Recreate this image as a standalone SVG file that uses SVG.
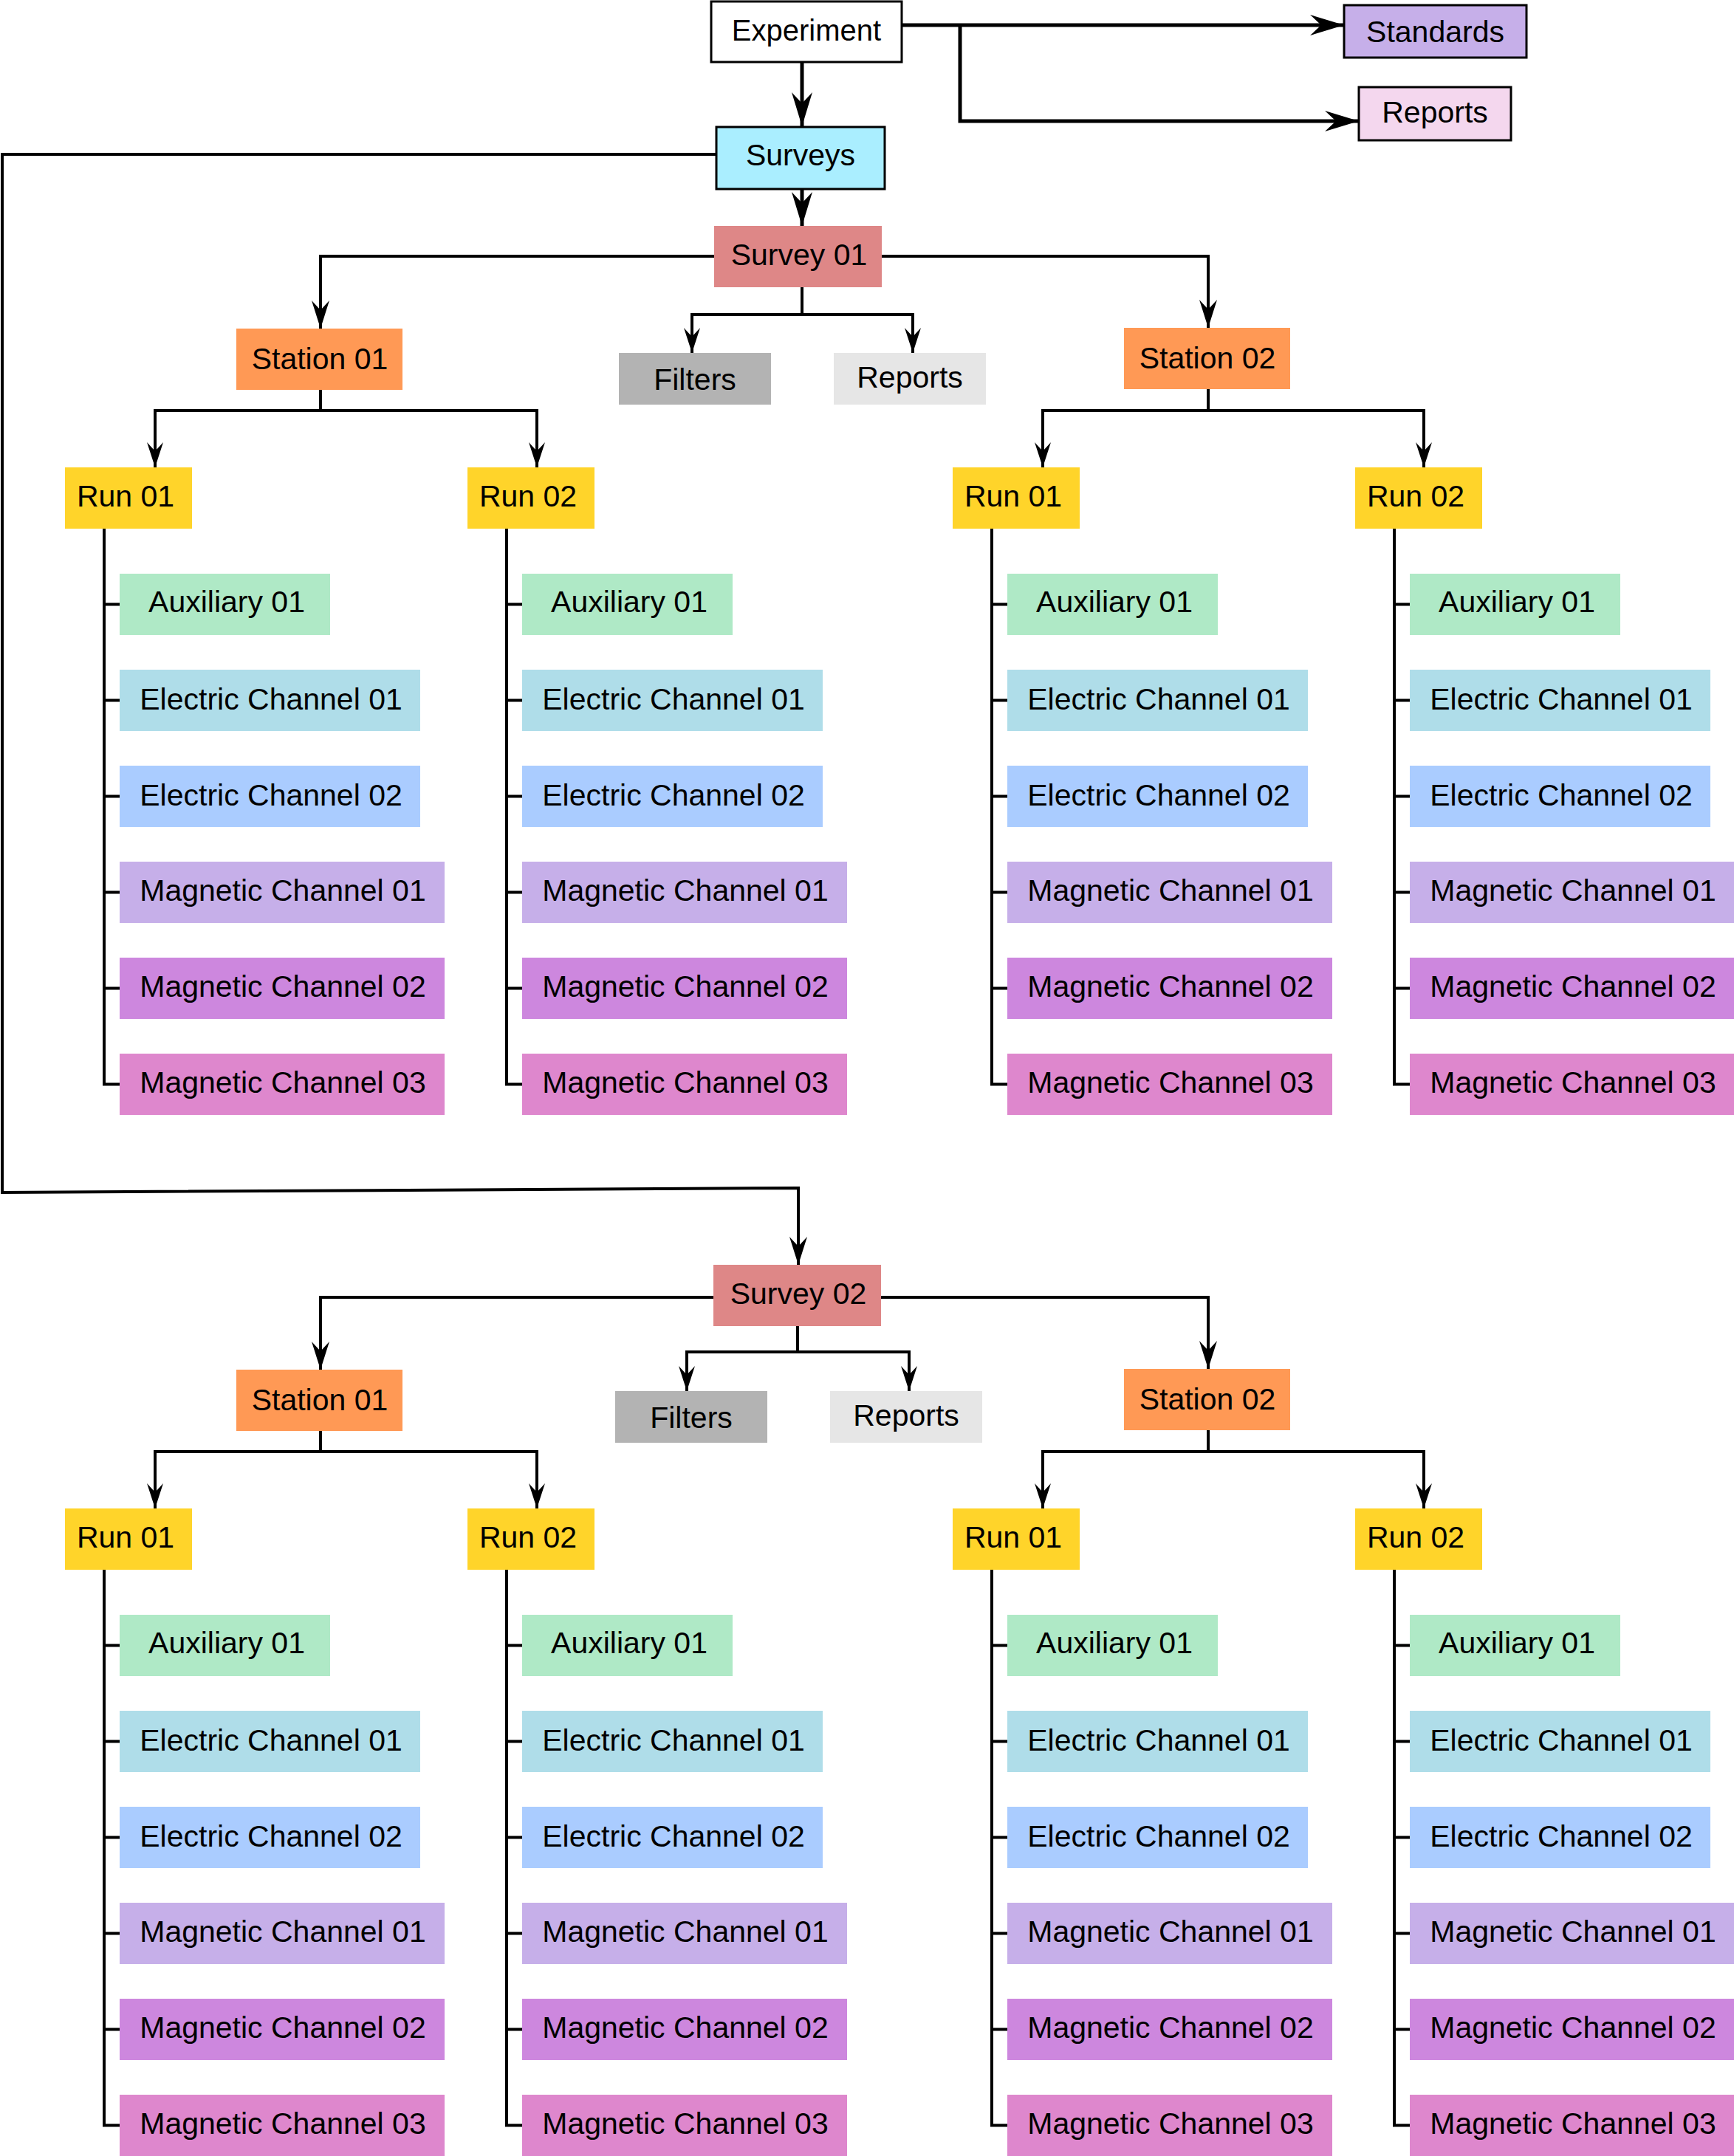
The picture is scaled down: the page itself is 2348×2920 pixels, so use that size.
<svg xmlns="http://www.w3.org/2000/svg" width="2348" height="2920" viewBox="0 0 2348 2920">
<defs>
<style>
text{font-family:"Liberation Sans",Arial,sans-serif;font-size:41px;fill:#000;text-anchor:middle}
.c{fill:none;stroke:#000;stroke-width:4;stroke-linejoin:miter}
.t{stroke-width:5}
.b{stroke:#000;stroke-width:3}
.exp{fill:#fff}.std{fill:#c6afe9}.rep0{fill:#f4d7ee}.svs{fill:#aaeeff}
.sv{fill:#de8787}.st{fill:#ff9955}.run{fill:#ffd42a}.fil{fill:#b3b3b3}.rep{fill:#e6e6e6}
.aux{fill:#afe9c6}.e1{fill:#afdde9}.e2{fill:#aaccff}.m1{fill:#c6afe9}.m2{fill:#cd87de}.m3{fill:#de87cd}
</style>
<marker id="a" markerUnits="userSpaceOnUse" viewBox="-48 -16 50 32" markerWidth="50" markerHeight="32" refX="0" refY="0" orient="auto"><path d="M0,0 L-46,-14 L-31,0 L-46,14 Z" fill="#000"/></marker>
<marker id="m" markerUnits="userSpaceOnUse" viewBox="-40 -14 42 28" markerWidth="42" markerHeight="28" refX="0" refY="0" orient="auto"><path d="M0,0 L-38,-12 L-25,0 L-38,12 Z" fill="#000"/></marker>
<marker id="s" markerUnits="userSpaceOnUse" viewBox="-36 -12 38 24" markerWidth="38" markerHeight="24" refX="0" refY="0" orient="auto"><path d="M0,0 L-34,-11 L-22,0 L-34,11 Z" fill="#000"/></marker>
</defs>
<rect x="0" y="0" width="2348" height="2920" fill="#fff"/>

<g id="connectors">
<path class="c t" d="M1221,34 H1820" marker-end="url(#a)"/>
<path class="c t" d="M1300,34 V164 H1840" marker-end="url(#a)"/>
<path class="c t" d="M1086,85 V171" marker-end="url(#a)"/>
<path class="c t" d="M1086,256 V306" marker-end="url(#a)"/>
<path class="c" d="M970,209 H3 V1615 L1081,1609 V1713" marker-end="url(#m)"/>

<path class="c" d="M967,347 H434 V445" marker-end="url(#m)"/>
<path class="c" d="M1194,347 H1636 V444" marker-end="url(#m)"/>
<path class="c" d="M1086,389 V426 H937 V478" marker-end="url(#s)"/>
<path class="c" d="M1086,426 H1236 V478" marker-end="url(#s)"/>
<path class="c" d="M434,528 V556 H210 V633" marker-end="url(#s)"/>
<path class="c" d="M434,556 H727 V633" marker-end="url(#s)"/>
<path class="c" d="M1636,527 V556 H1412 V633" marker-end="url(#s)"/>
<path class="c" d="M1636,556 H1928 V633" marker-end="url(#s)"/>
<path class="c" d="M141,716 V1468.5 H162 M141,818.5 H162 M141,948.5 H162 M141,1078.5 H162 M141,1208.5 H162 M141,1338.5 H162"/>
<path class="c" d="M686,716 V1468.5 H707 M686,818.5 H707 M686,948.5 H707 M686,1078.5 H707 M686,1208.5 H707 M686,1338.5 H707"/>
<path class="c" d="M1343,716 V1468.5 H1364 M1343,818.5 H1364 M1343,948.5 H1364 M1343,1078.5 H1364 M1343,1208.5 H1364 M1343,1338.5 H1364"/>
<path class="c" d="M1888,716 V1468.5 H1909 M1888,818.5 H1909 M1888,948.5 H1909 M1888,1078.5 H1909 M1888,1208.5 H1909 M1888,1338.5 H1909"/>

<path class="c" d="M966,1757 H434 V1855" marker-end="url(#m)"/>
<path class="c" d="M1193,1757 H1636 V1854" marker-end="url(#m)"/>
<path class="c" d="M1080,1796 V1831 H930 V1884" marker-end="url(#s)"/>
<path class="c" d="M1080,1831 H1231 V1884" marker-end="url(#s)"/>
<path class="c" d="M434,1938 V1966 H210 V2043" marker-end="url(#s)"/>
<path class="c" d="M434,1966 H727 V2043" marker-end="url(#s)"/>
<path class="c" d="M1636,1937 V1966 H1412 V2043" marker-end="url(#s)"/>
<path class="c" d="M1636,1966 H1928 V2043" marker-end="url(#s)"/>
<path class="c" d="M141,2126 V2878.5 H162 M141,2228.5 H162 M141,2358.5 H162 M141,2488.5 H162 M141,2618.5 H162 M141,2748.5 H162"/>
<path class="c" d="M686,2126 V2878.5 H707 M686,2228.5 H707 M686,2358.5 H707 M686,2488.5 H707 M686,2618.5 H707 M686,2748.5 H707"/>
<path class="c" d="M1343,2126 V2878.5 H1364 M1343,2228.5 H1364 M1343,2358.5 H1364 M1343,2488.5 H1364 M1343,2618.5 H1364 M1343,2748.5 H1364"/>
<path class="c" d="M1888,2126 V2878.5 H1909 M1888,2228.5 H1909 M1888,2358.5 H1909 M1888,2488.5 H1909 M1888,2618.5 H1909 M1888,2748.5 H1909"/>
</g>

<g id="experiment"><rect class="exp b" x="963" y="2" width="258" height="82"/><text x="1092" y="55" style="font-size:40px">Experiment</text></g>
<g id="standards"><rect class="std b" x="1820" y="7" width="247" height="71"/><text x="1943.5" y="57">Standards</text></g>
<g id="reports-top"><rect class="rep0 b" x="1840" y="118" width="206" height="72"/><text x="1943" y="166">Reports</text></g>
<g id="surveys"><rect class="svs b" x="970" y="172" width="228" height="84"/><text x="1084" y="224">Surveys</text></g>

<g id="survey01"><rect class="sv" x="967" y="306" width="227" height="83"/><text x="1082" y="359">Survey 01</text></g>
<g id="s1-station01"><rect class="st" x="320" y="445" width="225" height="83"/><text x="433" y="500">Station 01</text></g>
<g id="s1-station02"><rect class="st" x="1522" y="444" width="225" height="83"/><text x="1635" y="499">Station 02</text></g>
<g id="s1-filters"><rect class="fil" x="838" y="478" width="206" height="70"/><text x="941" y="528">Filters</text></g>
<g id="s1-reports"><rect class="rep" x="1129" y="478" width="206" height="70"/><text x="1232" y="525">Reports</text></g>

<g id="s1-st1-run01"><rect class="run" x="88" y="633" width="172" height="83"/><text x="170" y="686">Run 01</text></g>
<g id="s1-st1-run02"><rect class="run" x="633" y="633" width="172" height="83"/><text x="715" y="686">Run 02</text></g>
<g id="s1-st2-run01"><rect class="run" x="1290" y="633" width="172" height="83"/><text x="1372" y="686">Run 01</text></g>
<g id="s1-st2-run02"><rect class="run" x="1835" y="633" width="172" height="83"/><text x="1917" y="686">Run 02</text></g>

<g id="s1-st1-r1-aux"><rect class="aux" x="162" y="777" width="285" height="83"/><text x="307" y="829">Auxiliary 01</text></g>
<g id="s1-st1-r1-e1"><rect class="e1" x="162" y="907" width="407" height="83"/><text x="367" y="961">Electric Channel 01</text></g>
<g id="s1-st1-r1-e2"><rect class="e2" x="162" y="1037" width="407" height="83"/><text x="367" y="1091">Electric Channel 02</text></g>
<g id="s1-st1-r1-m1"><rect class="m1" x="162" y="1167" width="440" height="83"/><text x="383" y="1220">Magnetic Channel 01</text></g>
<g id="s1-st1-r1-m2"><rect class="m2" x="162" y="1297" width="440" height="83"/><text x="383" y="1350">Magnetic Channel 02</text></g>
<g id="s1-st1-r1-m3"><rect class="m3" x="162" y="1427" width="440" height="83"/><text x="383" y="1480">Magnetic Channel 03</text></g>

<g id="s1-st1-r2-aux"><rect class="aux" x="707" y="777" width="285" height="83"/><text x="852" y="829">Auxiliary 01</text></g>
<g id="s1-st1-r2-e1"><rect class="e1" x="707" y="907" width="407" height="83"/><text x="912" y="961">Electric Channel 01</text></g>
<g id="s1-st1-r2-e2"><rect class="e2" x="707" y="1037" width="407" height="83"/><text x="912" y="1091">Electric Channel 02</text></g>
<g id="s1-st1-r2-m1"><rect class="m1" x="707" y="1167" width="440" height="83"/><text x="928" y="1220">Magnetic Channel 01</text></g>
<g id="s1-st1-r2-m2"><rect class="m2" x="707" y="1297" width="440" height="83"/><text x="928" y="1350">Magnetic Channel 02</text></g>
<g id="s1-st1-r2-m3"><rect class="m3" x="707" y="1427" width="440" height="83"/><text x="928" y="1480">Magnetic Channel 03</text></g>

<g id="s1-st2-r1-aux"><rect class="aux" x="1364" y="777" width="285" height="83"/><text x="1509" y="829">Auxiliary 01</text></g>
<g id="s1-st2-r1-e1"><rect class="e1" x="1364" y="907" width="407" height="83"/><text x="1569" y="961">Electric Channel 01</text></g>
<g id="s1-st2-r1-e2"><rect class="e2" x="1364" y="1037" width="407" height="83"/><text x="1569" y="1091">Electric Channel 02</text></g>
<g id="s1-st2-r1-m1"><rect class="m1" x="1364" y="1167" width="440" height="83"/><text x="1585" y="1220">Magnetic Channel 01</text></g>
<g id="s1-st2-r1-m2"><rect class="m2" x="1364" y="1297" width="440" height="83"/><text x="1585" y="1350">Magnetic Channel 02</text></g>
<g id="s1-st2-r1-m3"><rect class="m3" x="1364" y="1427" width="440" height="83"/><text x="1585" y="1480">Magnetic Channel 03</text></g>

<g id="s1-st2-r2-aux"><rect class="aux" x="1909" y="777" width="285" height="83"/><text x="2054" y="829">Auxiliary 01</text></g>
<g id="s1-st2-r2-e1"><rect class="e1" x="1909" y="907" width="407" height="83"/><text x="2114" y="961">Electric Channel 01</text></g>
<g id="s1-st2-r2-e2"><rect class="e2" x="1909" y="1037" width="407" height="83"/><text x="2114" y="1091">Electric Channel 02</text></g>
<g id="s1-st2-r2-m1"><rect class="m1" x="1909" y="1167" width="440" height="83"/><text x="2130" y="1220">Magnetic Channel 01</text></g>
<g id="s1-st2-r2-m2"><rect class="m2" x="1909" y="1297" width="440" height="83"/><text x="2130" y="1350">Magnetic Channel 02</text></g>
<g id="s1-st2-r2-m3"><rect class="m3" x="1909" y="1427" width="440" height="83"/><text x="2130" y="1480">Magnetic Channel 03</text></g>

<g id="survey02"><rect class="sv" x="966" y="1713" width="227" height="83"/><text x="1081" y="1766">Survey 02</text></g>
<g id="s2-station01"><rect class="st" x="320" y="1855" width="225" height="83"/><text x="433" y="1910">Station 01</text></g>
<g id="s2-station02"><rect class="st" x="1522" y="1854" width="225" height="83"/><text x="1635" y="1909">Station 02</text></g>
<g id="s2-filters"><rect class="fil" x="833" y="1884" width="206" height="70"/><text x="936" y="1934">Filters</text></g>
<g id="s2-reports"><rect class="rep" x="1124" y="1884" width="206" height="70"/><text x="1227" y="1931">Reports</text></g>

<g id="s2-st1-run01"><rect class="run" x="88" y="2043" width="172" height="83"/><text x="170" y="2096">Run 01</text></g>
<g id="s2-st1-run02"><rect class="run" x="633" y="2043" width="172" height="83"/><text x="715" y="2096">Run 02</text></g>
<g id="s2-st2-run01"><rect class="run" x="1290" y="2043" width="172" height="83"/><text x="1372" y="2096">Run 01</text></g>
<g id="s2-st2-run02"><rect class="run" x="1835" y="2043" width="172" height="83"/><text x="1917" y="2096">Run 02</text></g>

<g id="s2-st1-r1-aux"><rect class="aux" x="162" y="2187" width="285" height="83"/><text x="307" y="2239">Auxiliary 01</text></g>
<g id="s2-st1-r1-e1"><rect class="e1" x="162" y="2317" width="407" height="83"/><text x="367" y="2371">Electric Channel 01</text></g>
<g id="s2-st1-r1-e2"><rect class="e2" x="162" y="2447" width="407" height="83"/><text x="367" y="2501">Electric Channel 02</text></g>
<g id="s2-st1-r1-m1"><rect class="m1" x="162" y="2577" width="440" height="83"/><text x="383" y="2630">Magnetic Channel 01</text></g>
<g id="s2-st1-r1-m2"><rect class="m2" x="162" y="2707" width="440" height="83"/><text x="383" y="2760">Magnetic Channel 02</text></g>
<g id="s2-st1-r1-m3"><rect class="m3" x="162" y="2837" width="440" height="83"/><text x="383" y="2890">Magnetic Channel 03</text></g>

<g id="s2-st1-r2-aux"><rect class="aux" x="707" y="2187" width="285" height="83"/><text x="852" y="2239">Auxiliary 01</text></g>
<g id="s2-st1-r2-e1"><rect class="e1" x="707" y="2317" width="407" height="83"/><text x="912" y="2371">Electric Channel 01</text></g>
<g id="s2-st1-r2-e2"><rect class="e2" x="707" y="2447" width="407" height="83"/><text x="912" y="2501">Electric Channel 02</text></g>
<g id="s2-st1-r2-m1"><rect class="m1" x="707" y="2577" width="440" height="83"/><text x="928" y="2630">Magnetic Channel 01</text></g>
<g id="s2-st1-r2-m2"><rect class="m2" x="707" y="2707" width="440" height="83"/><text x="928" y="2760">Magnetic Channel 02</text></g>
<g id="s2-st1-r2-m3"><rect class="m3" x="707" y="2837" width="440" height="83"/><text x="928" y="2890">Magnetic Channel 03</text></g>

<g id="s2-st2-r1-aux"><rect class="aux" x="1364" y="2187" width="285" height="83"/><text x="1509" y="2239">Auxiliary 01</text></g>
<g id="s2-st2-r1-e1"><rect class="e1" x="1364" y="2317" width="407" height="83"/><text x="1569" y="2371">Electric Channel 01</text></g>
<g id="s2-st2-r1-e2"><rect class="e2" x="1364" y="2447" width="407" height="83"/><text x="1569" y="2501">Electric Channel 02</text></g>
<g id="s2-st2-r1-m1"><rect class="m1" x="1364" y="2577" width="440" height="83"/><text x="1585" y="2630">Magnetic Channel 01</text></g>
<g id="s2-st2-r1-m2"><rect class="m2" x="1364" y="2707" width="440" height="83"/><text x="1585" y="2760">Magnetic Channel 02</text></g>
<g id="s2-st2-r1-m3"><rect class="m3" x="1364" y="2837" width="440" height="83"/><text x="1585" y="2890">Magnetic Channel 03</text></g>

<g id="s2-st2-r2-aux"><rect class="aux" x="1909" y="2187" width="285" height="83"/><text x="2054" y="2239">Auxiliary 01</text></g>
<g id="s2-st2-r2-e1"><rect class="e1" x="1909" y="2317" width="407" height="83"/><text x="2114" y="2371">Electric Channel 01</text></g>
<g id="s2-st2-r2-e2"><rect class="e2" x="1909" y="2447" width="407" height="83"/><text x="2114" y="2501">Electric Channel 02</text></g>
<g id="s2-st2-r2-m1"><rect class="m1" x="1909" y="2577" width="440" height="83"/><text x="2130" y="2630">Magnetic Channel 01</text></g>
<g id="s2-st2-r2-m2"><rect class="m2" x="1909" y="2707" width="440" height="83"/><text x="2130" y="2760">Magnetic Channel 02</text></g>
<g id="s2-st2-r2-m3"><rect class="m3" x="1909" y="2837" width="440" height="83"/><text x="2130" y="2890">Magnetic Channel 03</text></g>
</svg>
